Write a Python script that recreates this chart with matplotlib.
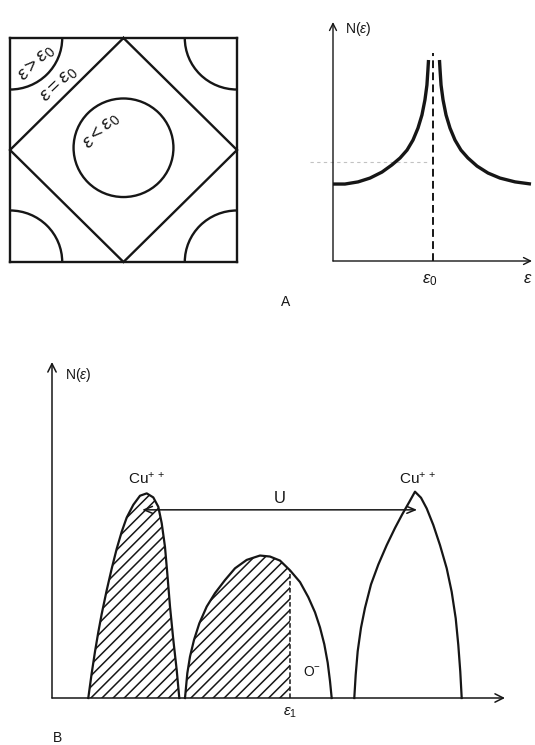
import matplotlib
matplotlib.use("Agg")
import matplotlib.pyplot as plt
from matplotlib.patches import Circle

plt.rcParams.update({
    "font.family": ["Liberation Sans", "DejaVu Sans"],
    "mathtext.fontset": "custom",
    "mathtext.rm": "Liberation Sans",
    "mathtext.it": "Liberation Sans:italic",
    "mathtext.sf": "Liberation Sans",
    "hatch.linewidth": 1.1,
})
INK = "#161616"

# ---- A, left: Fermi surface of the square lattice (k in units of pi/a)
DIAMOND_KX = [0, 1, 0, -1, 0]
DIAMOND_KY = [1, 0, -1, 0, 1]
INNER_RADIUS = 0.44           # eps < eps0
CORNER_RADIUS = 0.46          # eps > eps0 (pockets round the zone corners)
CORNERS = [(-1, 1), (1, 1), (-1, -1), (1, -1)]

# ---- A, right: density of states with the van Hove peak at eps0
EPS0 = 0.505
DOS_LEFT_E = [0.0, 0.060, 0.126, 0.186, 0.246, 0.296, 0.337, 0.372, 0.402, 0.427,
              0.447, 0.462, 0.472, 0.477, 0.480]
DOS_LEFT_N = [0.322, 0.322, 0.331, 0.347, 0.372, 0.402, 0.431, 0.464, 0.506, 0.556,
              0.611, 0.674, 0.736, 0.799, 0.841]
DOS_RIGHT_E = [0.535, 0.538, 0.543, 0.553, 0.568, 0.588, 0.613, 0.643, 0.678, 0.724,
               0.779, 0.839, 0.915, 0.995]
DOS_RIGHT_N = [0.841, 0.799, 0.736, 0.674, 0.611, 0.556, 0.506, 0.464, 0.431, 0.397,
               0.368, 0.347, 0.331, 0.322]
DOS_TOP = 0.87

# ---- B: Cu d / O p bands (arbitrary units)
CU_LOW_E = [8.01, 8.76, 9.49, 10.22, 10.97, 12.08, 13.18, 14.28, 15.39, 16.49, 17.95,
            19.43, 20.91, 22.36, 23.47, 24.22, 24.94, 25.45, 26.05, 26.78, 27.53, 28.10]
CU_LOW_N = [0, 7.35, 13.8, 19.6, 25.0, 32.1, 38.5, 44.4, 49.5, 53.7, 57.5,
            60.2, 60.9, 59.7, 56.9, 52.0, 45.0, 37.1, 27.2, 17.3, 8.3, 0]
O_E = [29.36, 29.87, 30.46, 31.35, 32.52, 34.15, 35.98, 38.19, 40.40, 42.98, 45.92,
       48.12, 50.33, 52.54, 54.75, 56.58, 58.06, 59.16, 60.11, 60.86, 61.37, 61.74]
O_N = [0, 7.35, 12.3, 17.3, 22.2, 27.2, 31.2, 35.1, 38.6, 41.1, 42.4,
       42.1, 40.9, 38.0, 34.5, 30.0, 25.5, 21.0, 16.0, 10.5, 5.0, 0]
CU_UP_E = [66.73, 67.04, 67.48, 68.21, 69.09, 70.42, 72.03, 73.89, 75.72, 77.33, 78.81,
           80.13, 81.46, 82.72, 84.17, 85.65, 87.13, 88.23, 89.12, 89.69, 90.13, 90.44]
CU_UP_N = [0, 6.9, 13.9, 20.9, 26.8, 33.8, 39.7, 45.5, 50.6, 54.7, 58.2,
           61.4, 59.6, 56.4, 51.5, 45.5, 38.6, 31.6, 23.7, 15.8, 7.8, 0]
EPS1 = 52.54
U_LEVEL = 56.0
U_FROM, U_TO = 19.9, 80.6


def axis_arrow(ax, start, end, head=0.7, width=0.32, lw=1.0):
    ax.annotate("", xy=end, xytext=start,
                arrowprops=dict(arrowstyle=f"->,head_length={head},head_width={width}",
                                color=INK, lw=lw, shrinkA=0, shrinkB=0),
                annotation_clip=False)


fig = plt.figure(figsize=(5.35, 7.45), dpi=100)

# Fermi surface
axf = fig.add_axes([10 / 535, 1 - 262 / 745, 227 / 535, 224 / 745])
axf.set_xlim(-1, 1)
axf.set_ylim(-1, 1)
axf.set_xticks([])
axf.set_yticks([])
for s in axf.spines.values():
    s.set_linewidth(1.7)
    s.set_color(INK)
axf.plot(DIAMOND_KX, DIAMOND_KY, color=INK, lw=1.7, clip_on=False, solid_joinstyle="miter")
axf.add_patch(Circle((0, 0.02), INNER_RADIUS, fill=False, ec=INK, lw=1.7))
for cx, cy in CORNERS:
    axf.add_patch(Circle((cx, cy), CORNER_RADIUS, fill=False, ec=INK, lw=1.7))
fs_labels = [(-0.77, 0.78, r"$\varepsilon > \varepsilon_0$", 45),
             (-0.57, 0.58, r"$\varepsilon = \varepsilon_0$", 44),
             (-0.20, 0.17, r"$\varepsilon < \varepsilon_0$", 45)]
for x, y, txt, rot in fs_labels:
    axf.text(x, y, txt, rotation=rot, rotation_mode="anchor", fontsize=14,
             ha="center", va="center", color=INK)

# Density of states
axd = fig.add_axes([333 / 535, 1 - 261 / 745, 199 / 535, 239 / 745])
axd.set_xlim(0, 1)
axd.set_ylim(0, 1)
axd.axis("off")
axis_arrow(axd, (0, 0), (0, 1.0), head=0.5, width=0.25)
axis_arrow(axd, (0, 0), (1.0, 0), head=0.5, width=0.25)
axd.plot([-0.116, 0.487], [0.414, 0.414], color="#9a9a9a", lw=0.8, ls=(0, (3, 3)),
         alpha=0.6, clip_on=False)
axd.plot(DOS_LEFT_E, DOS_LEFT_N, color=INK, lw=2.4, clip_on=False, solid_capstyle="butt")
axd.plot(DOS_RIGHT_E, DOS_RIGHT_N, color=INK, lw=2.4, clip_on=False, solid_capstyle="butt")
axd.plot([EPS0, EPS0], [0, DOS_TOP], color=INK, lw=1.4, ls=(0, (4, 2.2)), clip_on=False)
axd.text(0.06, 0.97, r"N($\varepsilon$)", fontsize=10, ha="left", va="center", color=INK)
axd.text(0.487, -0.08, r"$\varepsilon_0$", fontsize=12, ha="center", va="center", color=INK)
axd.text(0.98, -0.075, r"$\varepsilon$", fontsize=12, ha="center", va="center", color=INK)
axd.text(-0.236, -0.172, "A", fontsize=10, ha="center", va="center", color=INK)

# Hubbard bands with the O band in between
axb = fig.add_axes([52 / 535, 1 - 698 / 745, 453 / 535, 336 / 745])
axb.set_xlim(0, 100)
axb.set_ylim(0, 100)
axb.axis("off")
axis_arrow(axb, (0, 0), (0, 100), head=0.6, width=0.3, lw=1.1)
axis_arrow(axb, (0, 0), (100, 0), head=0.6, width=0.3, lw=1.1)

axb.fill(CU_LOW_E, CU_LOW_N, facecolor="none", edgecolor=INK, hatch="///", lw=0)
k = O_E.index(EPS1) + 1
axb.fill(O_E[:k] + [EPS1], O_N[:k] + [0], facecolor="none", edgecolor=INK, hatch="///", lw=0)
for e, n in [(CU_LOW_E, CU_LOW_N), (O_E, O_N), (CU_UP_E, CU_UP_N)]:
    axb.plot(e, n, color=INK, lw=1.6, clip_on=False)
axb.plot([EPS1, EPS1], [0, O_N[k - 1]], color=INK, lw=1.1, ls=(0, (3, 1.6)))

axb.annotate("", xy=(U_TO, U_LEVEL), xytext=(U_FROM, U_LEVEL),
             arrowprops=dict(arrowstyle="<->,head_length=0.6,head_width=0.25",
                             color=INK, lw=1.1, shrinkA=0, shrinkB=0))
axb.text((U_FROM + U_TO) / 2, 59.5, "U", fontsize=12, ha="center", va="center", color=INK)
axb.text(20.75, 65.2, r"Cu$^{+\,+}$", fontsize=11, ha="center", va="center", color=INK)
axb.text(80.57, 65.2, r"Cu$^{+\,+}$", fontsize=11, ha="center", va="center", color=INK)
axb.text(55.4, 7.6, r"O$^{-}$", fontsize=10, ha="left", va="center", color=INK)
axb.text(EPS1, -4.5, r"$\varepsilon_1$", fontsize=11, ha="center", va="center", color=INK)
axb.text(2.9, 96.1, r"N($\varepsilon$)", fontsize=10, ha="left", va="center", color=INK)
axb.text(1.3, -11.9, "B", fontsize=10, ha="center", va="center", color=INK)

fig.savefig("out.png", dpi=100)
